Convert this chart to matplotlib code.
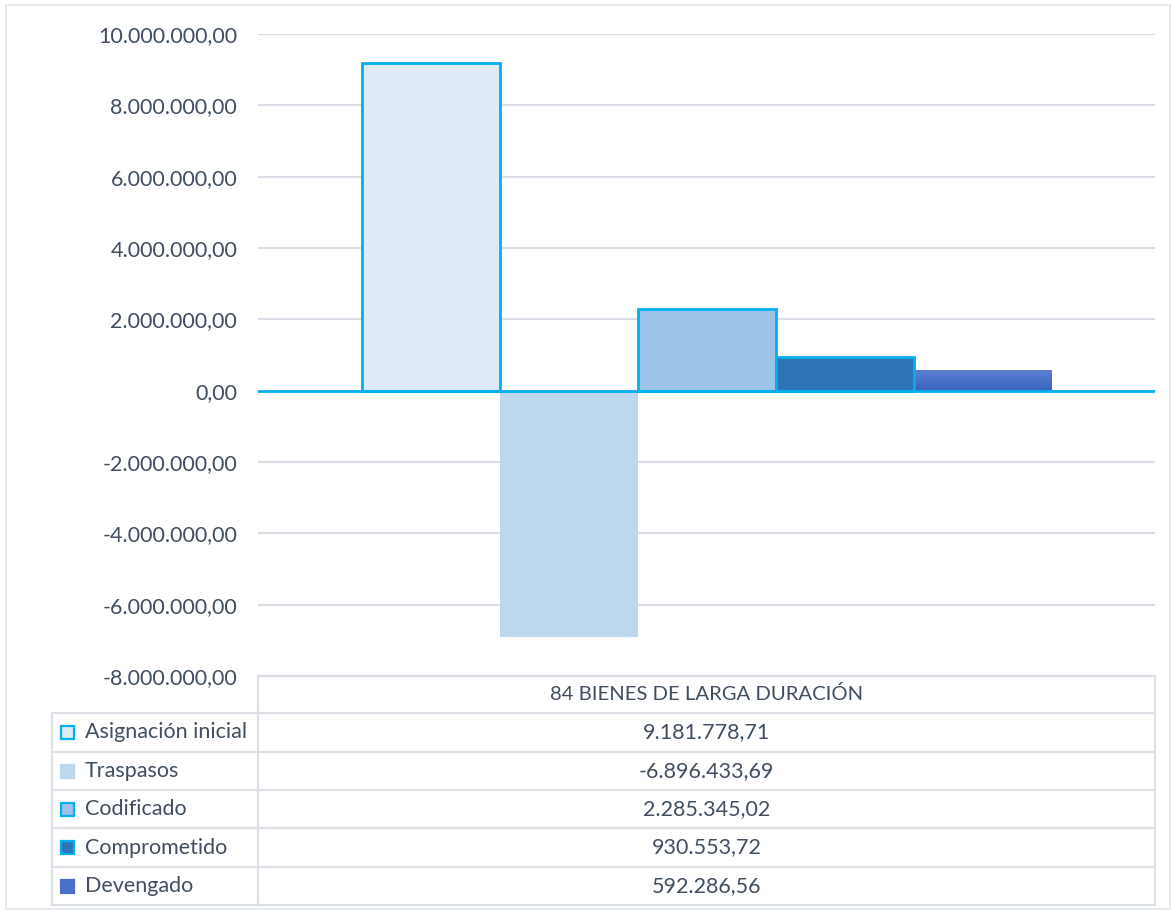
import numpy as np
import matplotlib
matplotlib.use("Agg")
import matplotlib.pyplot as plt
from matplotlib.patches import Rectangle
from matplotlib.colors import LinearSegmentedColormap

# Budget data for group 84
category = "84 BIENES DE LARGA DURACIÓN"
series_names = ["Asignación inicial", "Traspasos", "Codificado", "Comprometido", "Devengado"]
series_values = [9181778.71, -6896433.69, 2285345.02, 930553.72, 592286.56]
y_ticks = [-8000000, -6000000, -4000000, -2000000, 0, 2000000, 4000000, 6000000, 8000000, 10000000]

fills = ["#DEEBF7", "#BDD7EE", "#9DC3E6", "#2E75B6", "#4472C4"]
edges = ["#00B0F0", None, "#00B0F0", "#00B0F0", None]
text_color = "#404E60"
grid_color = "#D9DEE4"
axis_color = "#00B0F0"
font = "Lato"
fsize = 15.5

W, H = 1172, 911
fig = plt.figure(figsize=(W / 100, H / 100), dpi=100)
plt.rcParams["font.family"] = [font, "DejaVu Sans"]


def fmt(v, decimals=2):
    s = f"{abs(v):,.{decimals}f}"
    s = s.replace(",", "X").replace(".", ",").replace("X", ".")
    return ("-" if v < 0 else "") + s


# Plot area
ax_l, ax_r, ax_t, ax_b = 258, 1155, 34, 676
ax = fig.add_axes([ax_l / W, 1 - ax_b / H, (ax_r - ax_l) / W, (ax_b - ax_t) / H])
ax.set_xlim(-0.5, 0.5)
ax.set_ylim(y_ticks[0], y_ticks[-1])
ax.set_yticks(y_ticks)
ax.set_yticklabels([fmt(t) for t in y_ticks], color=text_color, fontsize=fsize)
ax.tick_params(axis="y", length=0, pad=15)
ax.set_xticks([])
for sp in ax.spines.values():
    sp.set_visible(False)
for t in y_ticks:
    if t != 0:
        ax.axhline(t, color=grid_color, lw=1.6, zorder=0)
ax.axhline(0, color=axis_color, lw=2.0, zorder=4)

n = len(series_values)
bw = 138 / (ax_r - ax_l)
x0 = -n * bw / 2
for i, (v, fc, ec) in enumerate(zip(series_values, fills, edges)):
    x = x0 + i * bw
    if ec:
        bar = ax.bar(x, v, width=bw, align="edge", color=fc, edgecolor=ec, linewidth=2.0, zorder=3)
    else:
        bar = ax.bar(x, v, width=bw, align="edge", color=fc, linewidth=0, zorder=2)
    if i == n - 1:
        # vertical gradient fill for the last series
        patch = bar.patches[0]
        cmap = LinearSegmentedColormap.from_list("grad", ["#3A62BF", "#5E82D0"])
        grad = np.linspace(0, 1, 64).reshape(-1, 1)
        im = ax.imshow(grad, cmap=cmap, extent=[x, x + bw, 0, v], origin="lower",
                       aspect="auto", zorder=2.5)
        im.set_clip_path(patch)
ax.set_xlim(-0.5, 0.5)
ax.set_ylim(y_ticks[0], y_ticks[-1])

# Data table below the plot, in pixel coordinates
tab = fig.add_axes([0, 0, 1, 1], zorder=-1)
tab.set_xlim(0, W)
tab.set_ylim(H, 0)
tab.axis("off")

lc = "#DCE1E8"
lw = 1.6
left, split, right = 52, 258, 1155
rows = [676, 713, 752, 790, 828, 867, 905]

# figure frame
tab.add_patch(Rectangle((6, 5), W - 8, H - 7, fill=False, edgecolor="#E3E7EC", lw=1.2))

tab.plot([split, right], [rows[0], rows[0]], color=lc, lw=lw)
for y in rows[1:]:
    tab.plot([left, right], [y, y], color=lc, lw=lw)
tab.plot([split, split], [rows[0], rows[-1]], color=lc, lw=lw)
tab.plot([right, right], [rows[0], rows[-1]], color=lc, lw=lw)
tab.plot([left, left], [rows[1], rows[-1]], color=lc, lw=lw)

cx = (split + right) / 2
tab.text(cx, (rows[0] + rows[1]) / 2, category, ha="center", va="center",
         color=text_color, fontsize=14.6)
for i, (name, v) in enumerate(zip(series_names, series_values)):
    yc = (rows[i + 1] + rows[i + 2]) / 2
    fc = fills[i] if i != n - 1 else "#4A70C8"
    ec = edges[i] if edges[i] else fc
    tab.add_patch(Rectangle((61, yc - 6.5), 13, 13, facecolor=fc, edgecolor=ec, lw=1.6))
    tab.text(85, yc, name, ha="left", va="center", color=text_color, fontsize=fsize)
    tab.text(cx, yc, fmt(v), ha="center", va="center", color=text_color, fontsize=fsize)

fig.savefig("out.png", dpi=100)
